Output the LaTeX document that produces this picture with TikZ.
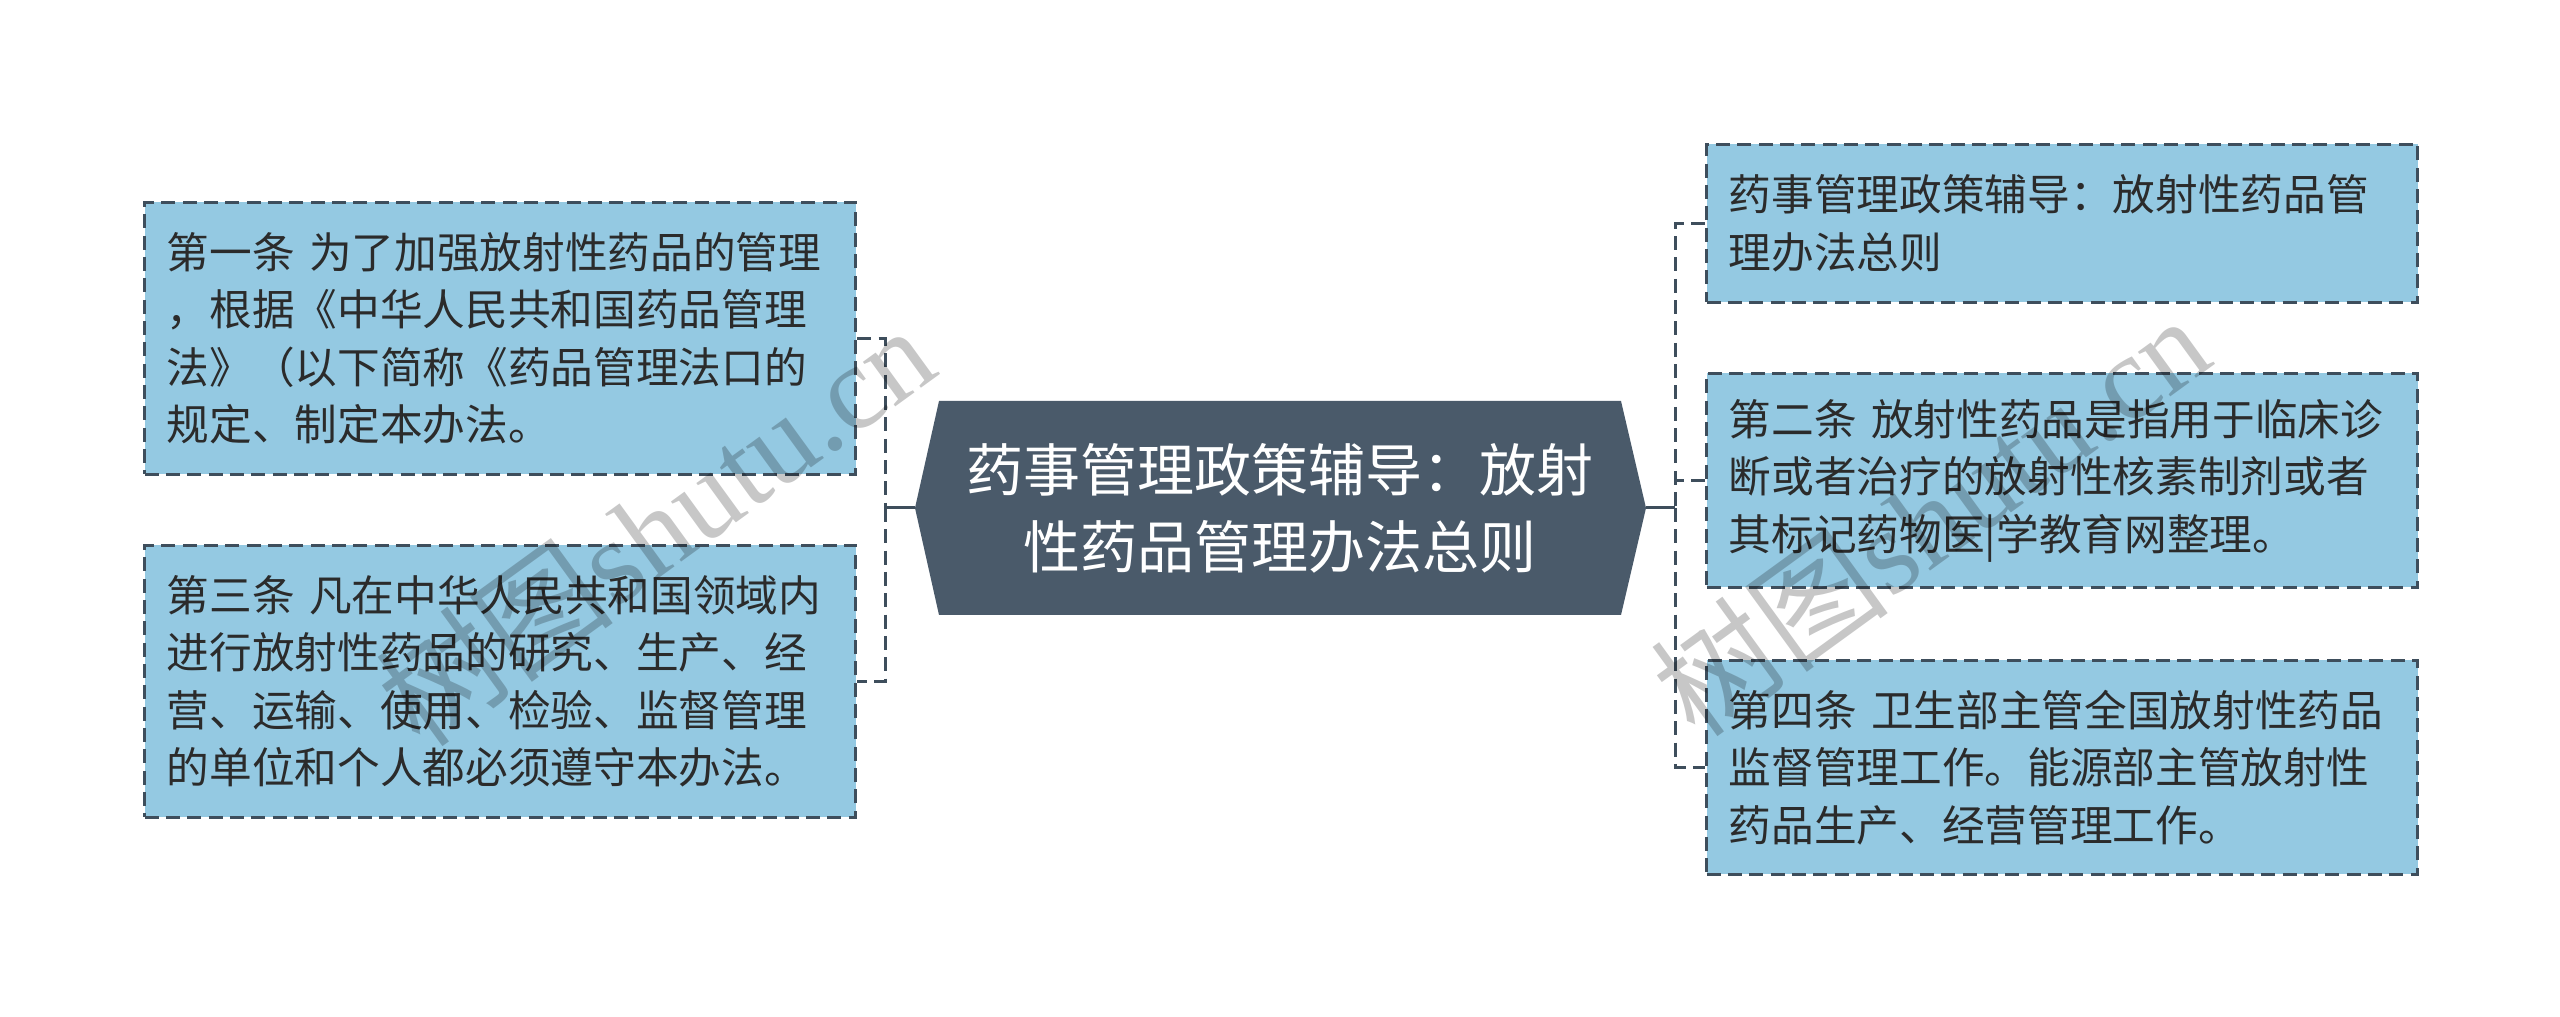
\documentclass[tikz,border=0pt]{standalone}
\usepackage{fontspec}
\setmainfont{Noto Sans CJK SC}
\newfontfamily\cjk{Noto Sans CJK SC}
\newfontfamily\wmlatin{Liberation Serif}
\definecolor{boxfill}{HTML}{94C9E2}
\definecolor{boxline}{HTML}{3E4E5C}
\definecolor{hexfill}{HTML}{4A5A6A}
\definecolor{txt}{HTML}{2B2B2B}
\tikzset{
  leaf/.style={draw=boxline, fill=boxfill, line width=0.9pt,
    dash pattern=on 4.2pt off 2.2pt, rectangle, anchor=north west,
    minimum width=213.4pt, inner xsep=6.6pt, inner ysep=0pt,
    text width=200pt, align=left, text=txt,
    font=\cjk\fontsize{12.8pt}{17.25pt}\selectfont},
  link/.style={draw=boxline, line width=0.9pt, dash pattern=on 4.2pt off 2.2pt},
  solidlink/.style={draw=boxline, line width=0.9pt},
  wm/.style={text=black, text opacity=0.22, font=\fontsize{36pt}{36pt}\selectfont, rotate=36}
}
\begin{document}
\begin{tikzpicture}[x=0.3pt, y=-0.3pt]
\useasboundingbox (0,0) rectangle (2560,1017);
\fill[white] (0,0) rectangle (2560,1017);

% central hexagon
\fill[hexfill] (915,508) -- (939,401) -- (1621,401) -- (1646,508) -- (1621,615) -- (939,615) -- cycle;
\coordinate (cl) at (915,508);
\coordinate (cr) at (1646,508);
\node[text=white, align=center, font=\cjk\fontsize{17.1pt}{23.1pt}\selectfont] (c) at (1280,508)
  {药事管理政策辅导：放射\\性药品管理办法总则};

% left boxes
\node[leaf, minimum height=81.6pt] (l1) at (143,201)
  {第一条 为了加强放射性药品的管理\\，根据《中华人民共和国药品管理\\法》（以下简称《药品管理法口的\\规定、制定本办法。};
\node[leaf, minimum height=81.6pt] (l2) at (143,544)
  {第三条 凡在中华人民共和国领域内\\进行放射性药品的研究、生产、经\\营、运输、使用、检验、监督管理\\的单位和个人都必须遵守本办法。};

% right boxes
\node[leaf, minimum height=47.4pt] (r1) at (1705,143)
  {药事管理政策辅导：放射性药品管\\理办法总则};
\node[leaf, minimum height=64.2pt] (r2) at (1705,372)
  {第二条 放射性药品是指用于临床诊\\断或者治疗的放射性核素制剂或者\\其标记药物医|学教育网整理。};
\node[leaf, minimum height=64.2pt] (r3) at (1705,659)
  {第四条 卫生部主管全国放射性药品\\监督管理工作。能源部主管放射性\\药品生产、经营管理工作。};

% connectors left
\coordinate (lj) at (885,508);
\draw[solidlink] (cl) -- (lj);
\draw[link] (l1.east) -| (lj);
\draw[link] (lj) |- (l2.east);

% connectors right
\coordinate (rj) at (1675,508);
\draw[solidlink] (cr) -- (rj);
\draw[link] (r1.west) -| (rj);
\draw[link] (rj) |- (r3.west);
\draw[link] (r2.west) -- (r2.west -| rj);

% watermarks
\node[wm] (w1) at (655,525) {\cjk 树图\wmlatin shutu.cn};
\node[wm] (w2) at (1930,515) {\cjk 树图\wmlatin shutu.cn};
\end{tikzpicture}
\end{document}
